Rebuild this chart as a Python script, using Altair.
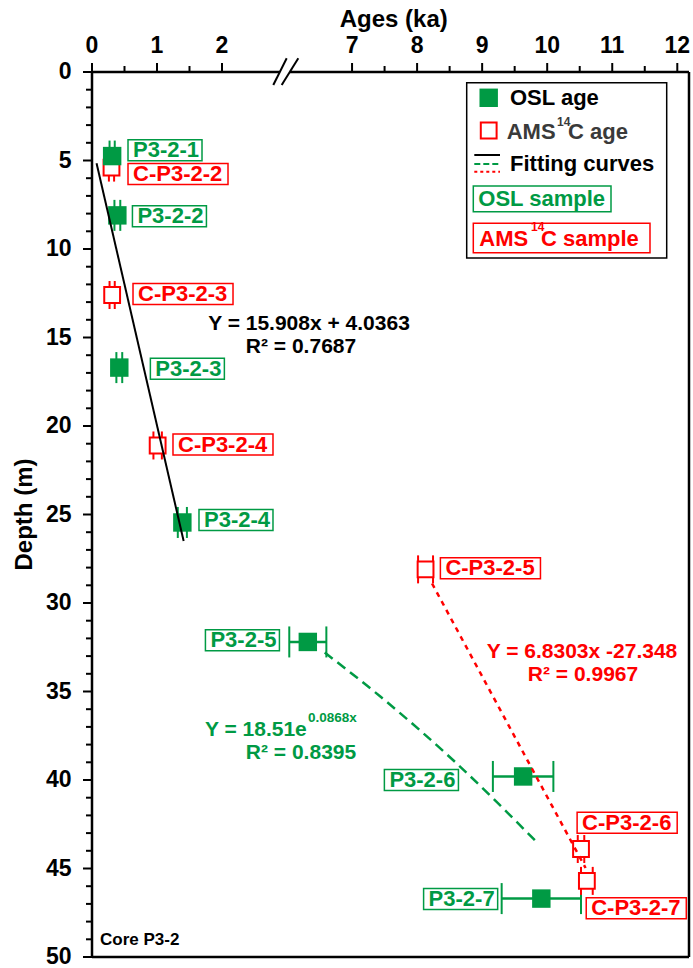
import altair as alt
import pandas as pd

FONT = "Liberation Sans"
GREEN = "#009A44"
RED = "#FF0000"

# ---------------- data ----------------
osl_name = ["P3-2-1", "P3-2-2", "P3-2-3", "P3-2-4", "P3-2-5", "P3-2-6", "P3-2-7"]
osl_age = [0.31, 0.39, 0.42, 1.39, 6.32, 9.63, 9.91]
osl_err = [0.04, 0.045, 0.045, 0.07, 0.285, 0.465, 0.61]
osl_depth = [4.75, 8.1, 16.7, 25.45, 32.2, 39.8, 46.7]

ams_name = ["C-P3-2-2", "C-P3-2-3", "C-P3-2-4", "C-P3-2-5", "C-P3-2-6", "C-P3-2-7"]
ams_age = [0.30, 0.31, 1.01, 8.13, 10.52, 10.61]
ams_err = [0.04, 0.04, 0.065, 0.115, 0.05, 0.09]
ams_depth = [5.4, 12.6, 21.1, 28.1, 43.9, 45.7]

# label anchor (left edge in ka, centre depth in m)
osl_lab_x = [0.554, 0.622, 0.898, 1.646, 1.745, 7.497, 8.10]
osl_lab_d = [4.42, 8.15, 16.77, 25.31, 32.11, 40.0, 46.72]
ams_lab_x = [0.554, 0.631, 1.246, 8.358, 10.46, 10.60]
ams_lab_d = [5.76, 12.54, 21.05, 28.04, 42.41, 47.25]

# fitting curves
lin_age = [0.07, 1.41]
lin_depth = [5.15, 26.5]
red_age = [8.23, 10.59]
red_depth = [28.9, 44.97]
grn_age = [6.58, 7.44, 8.56, 9.81]
grn_depth = [32.8, 35.3, 38.9, 43.4]

x_ticks = [0, 1, 2, 7, 8, 9, 10, 11, 12]
x_minor = [0.5, 1.5, 7.5, 8.5, 9.5, 10.5, 11.5]
y_ticks = list(range(0, 51, 5))
y_minor = [v for v in range(1, 50) if v % 5 != 0]

# ---------------- geometry ----------------
W, H = 597, 885
OX, OY = 92, 72
PX_PER_KA = 65.0
PX_PER_M = H / 50.0

xs = alt.Scale(domain=[0, 3, 6, 12.18], range=[0, 195, 195, W], nice=False, zero=False)
ys = alt.Scale(domain=[0, 50], reverse=True, nice=False, zero=False)

def X(f):
    return alt.X(f, scale=xs, axis=None)

def Y(f):
    return alt.Y(f, scale=ys, axis=None)

osl = pd.DataFrame({"name": osl_name, "age": osl_age, "err": osl_err, "depth": osl_depth})
osl["lo"] = osl.age - osl.err
osl["hi"] = osl.age + osl.err
ams = pd.DataFrame({"name": ams_name, "age": ams_age, "err": ams_err, "depth": ams_depth})
ams["lo"] = ams.age - ams.err
ams["hi"] = ams.age + ams.err

def lab_frame(names, lx, ld, wpx):
    df = pd.DataFrame({"name": names, "lx": lx, "ld": ld})
    df["lx2"] = df.lx + wpx / PX_PER_KA
    half = 10.5 / PX_PER_M
    df["d1"] = df.ld - half
    df["d2"] = df.ld + half
    return df

osl_lab = lab_frame(osl_name, osl_lab_x, osl_lab_d, 74)
ams_lab = lab_frame(ams_name, ams_lab_x, ams_lab_d, 100)

one = alt.Data(values=[{}])

def txt(s, x, y, size=22, color="black", align="left", baseline="middle", angle=0):
    kw = dict(text=s, align=align, baseline=baseline, font=FONT, fontSize=size,
              fontWeight="bold", color=color)
    if angle:
        kw["angle"] = angle
    return alt.Chart(one).mark_text(**kw).encode(x=alt.value(x - OX), y=alt.value(y - OY))

def seg(x1, y1, x2, y2, color="black", w=2.5, dash=None):
    kw = dict(color=color, strokeWidth=w)
    if dash:
        kw["strokeDash"] = dash
    return alt.Chart(one).mark_rule(**kw).encode(
        x=alt.value(x1 - OX), y=alt.value(y1 - OY), x2=alt.value(x2 - OX), y2=alt.value(y2 - OY))

def box(x1, y1, x2, y2, color, w=1.5):
    return alt.Chart(one).mark_rect(fill="white", stroke=color, strokeWidth=w).encode(
        x=alt.value(x1 - OX), y=alt.value(y1 - OY), x2=alt.value(x2 - OX), y2=alt.value(y2 - OY))

def sq(x, y, filled):
    if filled:
        m = alt.Chart(one).mark_square(size=340, color=GREEN, opacity=1)
    else:
        m = alt.Chart(one).mark_square(size=250, fill="white", stroke=RED, strokeWidth=2, opacity=1)
    return m.encode(x=alt.value(x - OX), y=alt.value(y - OY))

layers = []

# ---------------- axes (ticks and labels through the scales) ----------------
xt = pd.DataFrame({"v": x_ticks, "lab": [str(v) for v in x_ticks]})
yt = pd.DataFrame({"v": y_ticks, "lab": [str(v) for v in y_ticks]})
layers.append(alt.Chart(xt).mark_rule(color="black", strokeWidth=2).encode(
    x=X("v:Q"), y=alt.value(-9), y2=alt.value(0)))
layers.append(alt.Chart(xt).mark_text(font=FONT, fontSize=23, fontWeight="bold", color="black",
                                      align="center", baseline="alphabetic").encode(
    x=X("v:Q"), y=alt.value(-19), text="lab:N"))
layers.append(alt.Chart(pd.DataFrame({"v": x_minor})).mark_rule(color="black", strokeWidth=2).encode(
    x=X("v:Q"), y=alt.value(-6), y2=alt.value(0)))
layers.append(alt.Chart(yt).mark_rule(color="black", strokeWidth=2).encode(
    y=Y("v:Q"), x=alt.value(-9), x2=alt.value(0)))
layers.append(alt.Chart(yt).mark_text(font=FONT, fontSize=23, fontWeight="bold", color="black",
                                      align="right", baseline="middle").encode(
    y=Y("v:Q"), x=alt.value(-20.5), text="lab:N"))
layers.append(alt.Chart(pd.DataFrame({"v": y_minor})).mark_rule(color="black", strokeWidth=2).encode(
    y=Y("v:Q"), x=alt.value(-6), x2=alt.value(0)))
layers += [
    txt("Ages (ka)", 393.7, 27, size=24, align="center", baseline="alphabetic"),
    txt("Depth (m)", 32, 514.5, size=24, align="center", baseline="alphabetic", angle=270),
]

# frame with axis break
layers += [
    seg(OX, OY, OX, OY + H),
    seg(OX, OY, 279.8, OY),
    seg(289.8, OY, OX + W, OY),
    seg(OX + W, OY, OX + W, OY + H),
    seg(OX, OY + H, OX + W, OY + H),
    seg(273.3, 85, 286.7, 58.3, w=2),
    seg(281.7, 85, 298.3, 58.3, w=2),
]

# ---------------- error bars ----------------
layers.append(alt.Chart(osl).mark_rule(color=GREEN, strokeWidth=2.5).encode(
    x=X("lo:Q"), x2="hi:Q", y=Y("depth:Q")))
for df, col, sz in [(osl, GREEN, 31), (ams, RED, 28)]:
    for f in ["lo", "hi"]:
        layers.append(alt.Chart(df).mark_tick(orient="vertical", size=sz, thickness=2, color=col, opacity=1).encode(
            x=X(f + ":Q"), y=Y("depth:Q")))
layers.append(alt.Chart(ams).mark_rule(color=RED, strokeWidth=2).encode(
    x=X("lo:Q"), x2="hi:Q", y=Y("depth:Q")))

# ---------------- symbols ----------------
layers.append(alt.Chart(ams).mark_square(size=250, fill="white", stroke=RED, strokeWidth=2, opacity=1).encode(
    x=X("age:Q"), y=Y("depth:Q")))
layers.append(alt.Chart(osl).mark_square(size=340, color=GREEN, opacity=1).encode(
    x=X("age:Q"), y=Y("depth:Q")))

# ---------------- fitting curves ----------------
lin = pd.DataFrame({"age": lin_age, "depth": lin_depth})
rl = pd.DataFrame({"age": red_age, "depth": red_depth})
gl = pd.DataFrame({"age": grn_age, "depth": grn_depth})
layers.append(alt.Chart(lin).mark_line(color="black", strokeWidth=2).encode(x=X("age:Q"), y=Y("depth:Q")))
layers.append(alt.Chart(rl).mark_line(color=RED, strokeWidth=2.5, strokeDash=[5, 5]).encode(
    x=X("age:Q"), y=Y("depth:Q")))
layers.append(alt.Chart(gl).mark_line(color=GREEN, strokeWidth=2.5, strokeDash=[10, 6], interpolate="monotone").encode(
    x=X("age:Q"), y=Y("depth:Q")))

# ---------------- sample labels ----------------
for df, col in [(osl_lab, GREEN), (ams_lab, RED)]:
    layers.append(alt.Chart(df).mark_rect(fill="white", stroke=col, strokeWidth=1.5).encode(
        x=X("lx:Q"), x2="lx2:Q", y=Y("d1:Q"), y2="d2:Q"))
    layers.append(alt.Chart(df).mark_text(align="left", baseline="middle", dx=5, font=FONT,
                                          fontSize=22, fontWeight="bold", color=col).encode(
        x=X("lx:Q"), y=Y("ld:Q"), text="name:N"))

# ---------------- equations ----------------
layers += [
    txt("Y = 15.908x + 4.0363", 309, 324, size=21, align="center"),
    txt("R² = 0.7687", 301, 347, size=21, align="center"),
    txt("Y = 6.8303x -27.348", 582, 652, size=21, color=RED, align="center"),
    txt("R² = 0.9967", 583, 675, size=21, color=RED, align="center"),
    txt("Y = 18.51e", 205, 730, size=21, color=GREEN),
    txt("0.0868x", 308, 718, size=13.5, color=GREEN),
    txt("R² = 0.8395", 301, 753, size=21, color=GREEN, align="center"),
    txt("Core P3-2", 100, 940, size=17),
]

# ---------------- legend ----------------
DG = "#3a3a3a"
layers += [
    box(466.7, 82.7, 666.7, 258, "black"),
    sq(488.7, 97.8, True),
    txt("OSL age", 510, 98),
    sq(488.7, 130.5, False),
    txt("AMS", 506.7, 131.7, color=DG),
    txt("14", 557, 122, size=12, color=DG),
    txt("C age", 568, 131.7, color=DG),
    seg(474.3, 155, 500, 155, w=2),
    seg(474.3, 164, 500, 164, color=GREEN, w=2, dash=[6, 3]),
    seg(474.3, 171.7, 500, 171.7, color=RED, w=2, dash=[3, 3]),
    txt("Fitting curves", 510, 164),
    box(473.3, 186, 611, 211.7, GREEN),
    txt("OSL sample", 478.3, 198.5, color=GREEN),
    box(473.3, 223.3, 650, 252.7, RED),
    txt("AMS", 479.3, 239.3, color=RED),
    txt("14", 531, 227, size=12, color=RED),
    txt("C sample", 541, 239.3, color=RED),
]

chart = alt.layer(*layers).properties(
    width=W, height=H,
    autosize=alt.AutoSizeParams(type="none"),
    padding={"left": OX, "top": OY, "right": 693 - OX - W, "bottom": 968 - OY - H},
    background="white",
).configure_view(stroke=None)

chart.save("out.html", embed_options={"renderer": "svg", "actions": False})
